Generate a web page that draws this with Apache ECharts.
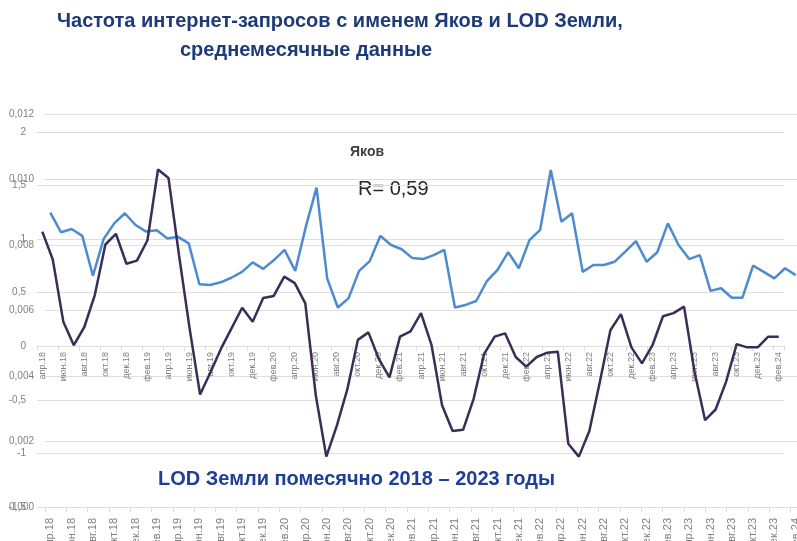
<!DOCTYPE html>
<html>
<head>
<meta charset="utf-8">
<script src="https://cdn.jsdelivr.net/npm/echarts@6/dist/echarts.min.js"></script>
<style>
  html, body { margin: 0; padding: 0; background: #fff; }
  #board { width: 797px; height: 541px; }
</style>
</head>
<body>
<div id="board"></div>
<script>
// месяцы (апр.18 - фев.24)
var months = [
  "апр.18", "май.18", "июн.18", "июл.18", "авг.18", "сен.18", "окт.18", "ноя.18", "дек.18",
  "янв.19", "фев.19", "мар.19", "апр.19", "май.19", "июн.19", "июл.19", "авг.19", "сен.19", "окт.19", "ноя.19", "дек.19",
  "янв.20", "фев.20", "мар.20", "апр.20", "май.20", "июн.20", "июл.20", "авг.20", "сен.20", "окт.20", "ноя.20", "дек.20",
  "янв.21", "фев.21", "мар.21", "апр.21", "май.21", "июн.21", "июл.21", "авг.21", "сен.21", "окт.21", "ноя.21", "дек.21",
  "янв.22", "фев.22", "мар.22", "апр.22", "май.22", "июн.22", "июл.22", "авг.22", "сен.22", "окт.22", "ноя.22", "дек.22",
  "янв.23", "фев.23", "мар.23", "апр.23", "май.23", "июн.23", "июл.23", "авг.23", "сен.23", "окт.23", "ноя.23", "дек.23",
  "янв.24", "фев.24"
];

// частота запросов "Яков"
var yakov = [
  0.00899, 0.00839, 0.00849, 0.00828, 0.00706, 0.00818, 0.00866, 0.00897, 0.00861, 0.00841,
  0.00845, 0.00820, 0.00825, 0.00805, 0.00680, 0.00678, 0.00686, 0.00700, 0.00718, 0.00747,
  0.00727, 0.00754, 0.00785, 0.00721, 0.00856, 0.00975, 0.00698, 0.00609, 0.00637, 0.00721,
  0.00751, 0.00828, 0.00800, 0.00787, 0.00760, 0.00757, 0.00769, 0.00785, 0.00609, 0.00617,
  0.00629, 0.00690, 0.00724, 0.00778, 0.00729, 0.00815, 0.00846, 0.01029, 0.00871, 0.00897,
  0.00718, 0.00739, 0.00739, 0.00749, 0.00780, 0.00812, 0.00749, 0.00778, 0.00866, 0.00800,
  0.00757, 0.00769, 0.00660, 0.00668, 0.00639, 0.00639, 0.00737, 0.00718, 0.00698, 0.00729,
  0.00708
];

// LOD Земли
var lod = [
  1.07, 0.81, 0.23, 0.01, 0.18, 0.48, 0.95, 1.05, 0.77, 0.80,
  0.99, 1.65, 1.57, 0.85, 0.17, -0.45, -0.24, -0.02, 0.17, 0.36,
  0.23, 0.45, 0.47, 0.65, 0.59, 0.40, -0.46, -1.03, -0.74, -0.40,
  0.06, 0.13, -0.12, -0.29, 0.09, 0.14, 0.31, 0.01, -0.55, -0.79,
  -0.78, -0.49, -0.07, 0.09, 0.12, -0.10, -0.19, -0.10, -0.06, -0.05,
  -0.91, -1.03, -0.79, -0.33, 0.15, 0.30, -0.01, -0.16, 0.01, 0.28,
  0.31, 0.37, -0.24, -0.69, -0.59, -0.33, 0.02, -0.01, -0.01, 0.09,
  0.09
];

var gray = "#808080";
var gridColor = "#dedede";

var option = {
  animation: false,
  backgroundColor: "#fff",
  textStyle: { fontFamily: "Liberation Sans" },
  graphic: [
    {
      type: "text", left: 57, top: 11,
      style: { text: "Частота интернет-запросов с именем Яков и LOD Земли,", fill: "#1f3a78",
        font: "bold 20px 'Liberation Sans'" }
    },
    {
      type: "text", left: 180, top: 40,
      style: { text: "среднемесячные данные", fill: "#1f3a78",
        font: "bold 20px 'Liberation Sans'" }
    },
    {
      type: "text", left: 350, top: 145,
      style: { text: "Яков", fill: "#404040", font: "bold 14px 'Liberation Sans'" }
    },
    {
      type: "text", left: 358, top: 179,
      style: { text: "R= 0,59", fill: "#262626", font: "20px 'Liberation Sans'" }
    },
    {
      type: "text", left: 158, top: 469,
      style: { text: "LOD Земли помесячно 2018 – 2023 годы", fill: "#1f3f96",
        font: "bold 20px 'Liberation Sans'" }
    }
  ],
  grid: [
    { left: 45, width: 756, top: 114, bottom: 34, outerBoundsMode: "none" },
    { left: 37, width: 747, top: 132, bottom: 34, outerBoundsMode: "none" }
  ],
  xAxis: [
    {
      type: "category", gridIndex: 0, data: months, position: "bottom",
      boundaryGap: true,
      axisLine: { onZero: false, lineStyle: { color: gridColor } },
      axisTick: { show: true, interval: 1, length: 5, lineStyle: { color: gridColor } },
      axisLabel: { interval: 1, rotate: 90, color: gray, fontSize: 11, margin: 11 }
    },
    {
      // ось LOD проходит через ноль (y=0 -> 161px выше низа сетки)
      type: "category", gridIndex: 1, data: months, position: "bottom",
      offset: -161,
      boundaryGap: true,
      axisLine: { onZero: false, lineStyle: { color: gridColor } },
      axisTick: { show: true, interval: 1, length: 5, lineStyle: { color: gridColor } },
      axisLabel: { interval: 1, rotate: 90, color: gray, fontSize: 9, margin: 6 }
    }
  ],
  yAxis: [
    {
      type: "value", gridIndex: 0, min: 0, max: 0.012, interval: 0.002,
      axisLine: { show: false }, axisTick: { show: false },
      splitLine: { lineStyle: { color: gridColor, width: 1.2 } },
      axisLabel: {
        color: gray, fontSize: 10, margin: 11,
        formatter: function (v) { return v.toFixed(3).replace(".", ","); }
      }
    },
    {
      type: "value", gridIndex: 1, min: -1.5, max: 2, interval: 0.5,
      axisLine: { show: false }, axisTick: { show: false },
      splitLine: { lineStyle: { color: gridColor, width: 1.2 } },
      axisLabel: {
        color: gray, fontSize: 10, margin: 11,
        formatter: function (v) { return String(v).replace(".", ","); }
      }
    }
  ],
  series: [
    {
      name: "Яков", type: "line", xAxisIndex: 0, yAxisIndex: 0,
      data: yakov, symbol: "none",
      lineStyle: { color: "#4d8bd0", width: 2.5 }
    },
    {
      name: "LOD", type: "line", xAxisIndex: 1, yAxisIndex: 1,
      data: lod, symbol: "none",
      lineStyle: { color: "#3b2d55", width: 2.5 }
    }
  ]
};

var myChart = echarts.init(document.getElementById("board"));
myChart.setOption(option);
</script>
</body>
</html>
